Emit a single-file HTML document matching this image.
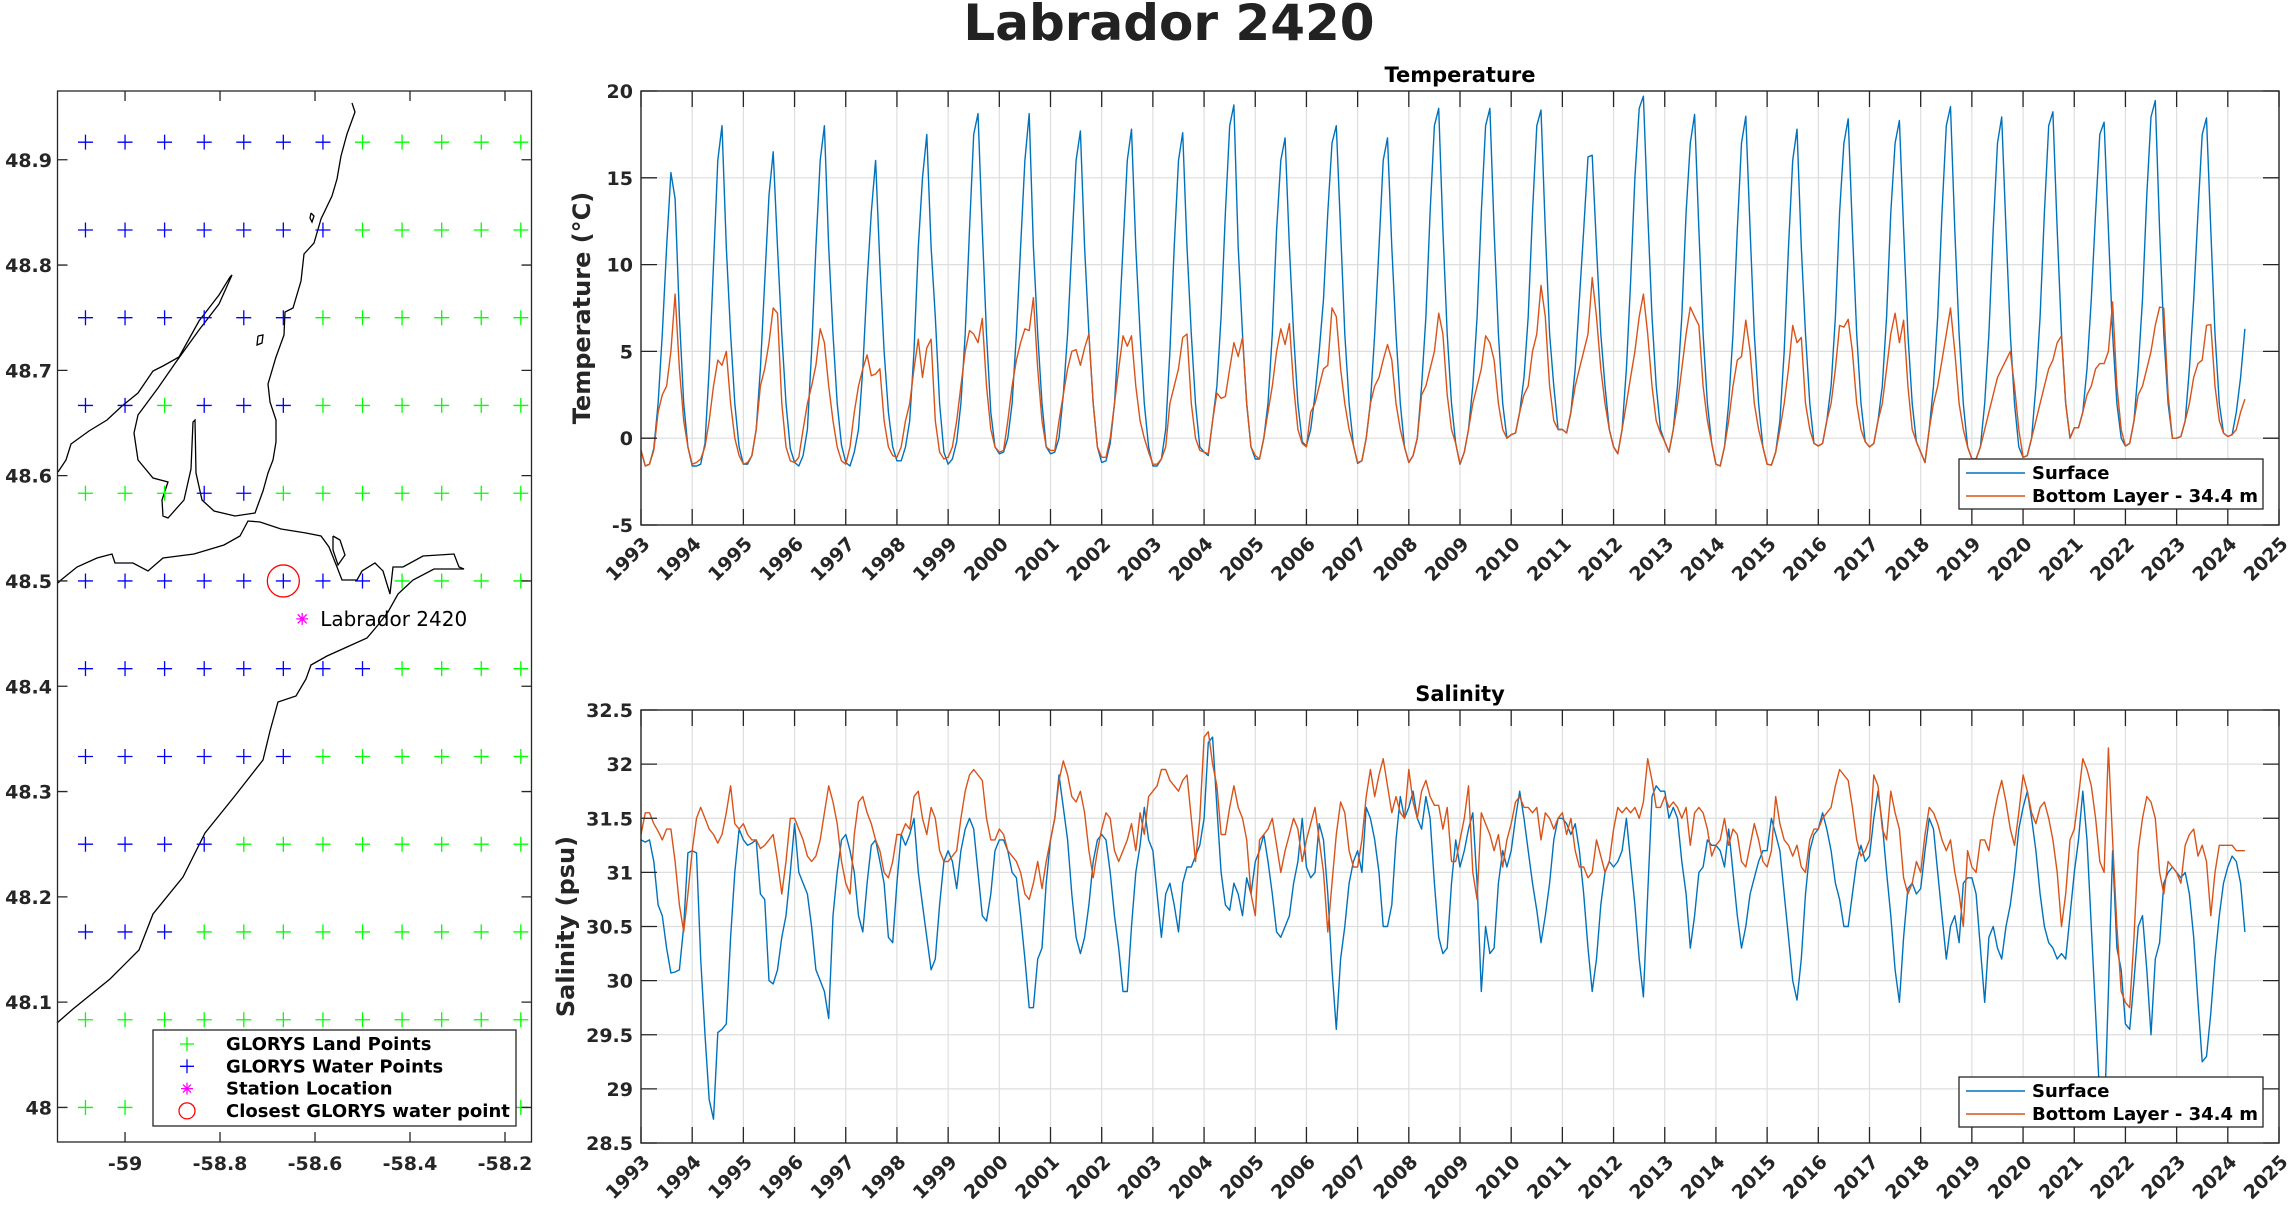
<!DOCTYPE html>
<html><head><meta charset="utf-8"><style>
html,body{margin:0;padding:0;background:#fff;}
svg{display:block;font-family:"DejaVu Sans","Liberation Sans",sans-serif;}
</style></head><body>
<svg id="fig" width="2292" height="1205" viewBox="0 0 2292 1205" xmlns="http://www.w3.org/2000/svg">
<text x="1169" y="40" font-size="50" font-weight="bold" text-anchor="middle" fill="#222">Labrador 2420</text>
<g id="map"></g>
<g id="temp"></g>
<g id="sal"></g>
</svg>
<script>
// ---------- data ----------
const years = [1993,1994,1995,1996,1997,1998,1999,2000,2001,2002,2003,2004,2005,2006,2007,2008,2009,2010,2011,2012,2013,2014,2015,2016,2017,2018,2019,2020,2021,2022,2023,2024];
const tempTicks = [-5,0,5,10,15,20];
const salTicks = [28.5,29,29.5,30,30.5,31,31.5,32,32.5];
const yearTicks = [1993,1994,1995,1996,1997,1998,1999,2000,2001,2002,2003,2004,2005,2006,2007,2008,2009,2010,2011,2012,2013,2014,2015,2016,2017,2018,2019,2020,2021,2022,2023,2024,2025];
const tempSurface = [
-0.7,-1.6,-1.5,-0.6,2,6,11,15.3,13.8,7,2,-0.5,
-1.6,-1.6,-1.5,-0.3,4,10,16,18,11,6,2,-0.5,
-1.5,-1.5,-1,0.5,4,9,14,16.5,11,6,2,-0.6,
-1.4,-1.6,-1,0.5,5,11,16,18,11,6,2,-0.4,
-1.4,-1.6,-0.8,0.5,4,9,13,16,10,5,1.5,-0.5,
-1.3,-1.3,-0.5,1,5,11,15,17.5,11,7,2,-0.8,
-1.5,-1.2,-0.2,2,6,12,17.5,18.7,12,6,1.5,-0.5,
-0.9,-0.8,0,2,6,11,16,18.7,11,6,2,-0.5,
-0.9,-0.8,0,2.5,6,11,16,17.7,11,6,2,-0.5,
-1.4,-1.3,-0.3,2,6,11,16,17.8,11,6,2,-0.5,
-1.6,-1.6,-1.2,0.5,5,11,16,17.6,11,6,2,-0.5,
-0.8,-1,1,3,7,13,18,19.2,11,6,2,-0.5,
-1.2,-1.2,0,2,6,12,16,17.3,11,6,2,-0.2,
-0.45,0.5,2.5,5,8,13,17,18,12,6,2,-0.4,
-1.45,-1.3,0,2,6,11,16,17.3,11,6,2,-0.5,
-1.4,-1,0,3,7,13,18,19,12,6,2,-0.3,
-1.5,-0.8,0.5,3,7,13,18,19,12,6,2,0,
0.2,0.3,1.5,3.5,7,13,18,18.9,12,6,3,0.5,
0.5,0.3,1.5,4,8,12,16.2,16.3,11,6,3,0.5,
-0.5,-0.9,0.5,4,9,15,19,19.7,13,7,3,0.5,
-0.2,-0.8,0.5,3,7,13,17,18.65,12,6,2,-0.3,
-1.5,-1.6,-0.5,2,6,12,17,18.55,12,6,2,-0.5,
-1.5,-1.55,-0.8,1,5,11,16,17.8,11,6,2,-0.3,
-0.45,-0.3,1,3,7,13,17,18.4,12,6,2,-0.2,
-0.5,-0.3,1,3,7,13,17,18.3,12,6,2,-0.2,
-0.8,-1.4,0.5,3,7,13,18,19.1,12,6,2,-0.5,
-1.2,-1.2,-0.5,2,6,12,17,18.5,12,6,2,-0.5,
-1.1,-1.0,0,3,7,13,18,18.8,12,6,2,0,
0.6,0.6,1.5,4,8,13,17.5,18.2,12,6,2,0,
-0.45,-0.3,1,4,8,14,18.5,19.45,12,6,2,0,
0,0.1,1,4,8,13,17.5,18.45,12,6,2,0.3,
0.1,0.2,1.5,3.5,6.3];
const tempBottom = [
-0.7,-1.6,-1.5,-0.7,1.5,2.5,3,5,8.3,4,1,-0.5,
-1.5,-1.4,-1.2,-0.5,1,3,4.5,4.2,5,2,0,-1,
-1.5,-1.4,-1,0.5,3,4,5.5,7.5,7.2,2,-0.5,-1.3,
-1.4,-1.1,0.5,2,3,4.2,6.3,5.5,3,1,-0.5,-1.3,
-1.5,-0.5,1.5,3,4,4.8,3.6,3.7,4,1,-0.5,-1,
-1.1,-0.5,1,2,4,5.7,3.5,5.2,5.7,1,-0.8,-1.2,
-1.1,-0.5,1,3,5,6.2,6,5.5,6.9,3,0.5,-0.5,
-0.8,-0.7,1,3,4.5,5.5,6.3,6.2,8.1,4,1,-0.5,
-0.7,-0.7,1,2.5,4,5,5.1,4.2,5.2,6,2,-0.5,
-1.1,-1.1,0,2,4,5.9,5.3,5.9,3,1,0,-0.8,
-1.5,-1.5,-1.2,-0.5,2,3,4,5.8,6,2,0,-0.7,
-0.8,-0.9,1,2.6,2.3,2.4,4,5.5,4.7,5.8,2,-0.5,
-1,-1.2,0,1.5,3,5,6.3,5.4,6.6,3,0.5,-0.3,
-0.5,1.5,2,3,4,4.2,7.5,7,4,2,0.5,-0.4,
-1.4,-1.3,0,2,3,3.5,4.5,5.4,4.5,2,0.5,-0.5,
-1.4,-1,0,2.5,3,4,5,7.2,6,2.5,0.5,-0.3,
-1.5,-0.8,0.5,2,3,4,5.9,5.5,4.5,2,0.5,0,
0.2,0.3,1.5,2.5,3,5,6,8.8,7,3,1,0.5,
0.5,0.3,1.5,3,4,5,6,9.25,7,4,2,0.5,
-0.5,-0.9,0.5,2,3.5,5,7,8.3,6,3,1,0.3,
-0.2,-0.8,0.5,2,4,6,7.55,7,6.5,3,1,-0.3,
-1.5,-1.6,-0.5,1,3,4.5,4.7,6.8,5,2,0.5,-0.5,
-1.5,-1.55,-0.8,0.5,2,4,6.5,5.5,5.8,2,0.5,-0.3,
-0.45,-0.3,1,2,4,6.5,6.4,6.85,5,2,0.5,-0.2,
-0.5,-0.3,1,2,4,6,7.2,5.5,6.8,3,0.5,-0.2,
-0.8,-1.4,0.5,2,3,4.5,6,7.5,5,2,0.5,-0.5,
-1.2,-1.2,-0.5,0.5,1.5,2.5,3.5,4,4.5,5,3,0.5,
-1.1,-1.0,0,1,2,3,4,4.5,5.5,5.9,2,0,
0.6,0.6,1.5,2.5,3,4,4.3,4.3,5,7.85,3,0.5,
-0.45,-0.3,1,2.5,3,4,5,6.5,7.55,7.5,2.5,0,
0,0.1,1,2,3.5,4.3,4.5,6.5,6.55,3,1,0.3,
0.1,0.2,0.5,1.5,2.25];
const salSurface = [
31.3,31.28,31.3,31.1,30.7,30.6,30.3,30.07,30.08,30.1,30.5,31.18,
31.2,31.18,30.2,29.5,28.9,28.72,29.52,29.55,29.6,30.4,31.0,31.4,
31.3,31.25,31.27,31.3,30.8,30.75,30.0,29.97,30.1,30.4,30.6,31.0,
31.45,31.0,30.9,30.8,30.5,30.1,30.0,29.9,29.65,30.6,31.0,31.3,
31.35,31.2,31.0,30.6,30.45,30.9,31.25,31.3,31.1,30.9,30.4,30.35,
30.9,31.35,31.25,31.35,31.5,31.0,30.7,30.4,30.1,30.2,30.7,31.1,
31.2,31.1,30.85,31.2,31.4,31.5,31.4,31.0,30.6,30.55,30.8,31.2,
31.3,31.3,31.2,31.0,30.95,30.6,30.2,29.75,29.75,30.2,30.3,30.9,
31.3,31.5,31.9,31.6,31.3,30.8,30.4,30.25,30.4,30.7,31.1,31.3,
31.35,31.3,31.0,30.6,30.3,29.9,29.9,30.5,31.0,31.25,31.6,31.3,
31.2,30.8,30.4,30.8,30.9,30.7,30.45,30.9,31.05,31.05,31.15,31.25,
31.5,32.2,32.25,31.6,31.0,30.7,30.65,30.9,30.8,30.6,30.95,30.8,
31.1,31.2,31.35,31.1,30.8,30.45,30.4,30.5,30.6,30.9,31.1,31.5,
31.05,30.95,31.0,31.45,31.3,30.8,30.1,29.55,30.2,30.5,30.9,31.1,
31.2,31.0,31.6,31.5,31.3,31.0,30.5,30.5,30.7,31.3,31.7,31.5,
31.6,31.75,31.5,31.4,31.7,31.5,30.9,30.4,30.25,30.3,30.9,31.3,
31.05,31.2,31.4,31.55,30.9,29.9,30.5,30.25,30.3,30.9,31.2,31.05,
31.2,31.5,31.75,31.5,31.2,30.9,30.65,30.35,30.6,30.9,31.3,31.5,
31.5,31.45,31.35,31.45,31.2,30.8,30.3,29.9,30.2,30.7,31.0,31.1,
31.05,31.1,31.2,31.5,31.1,30.7,30.2,29.85,30.8,31.7,31.8,31.75,
31.75,31.5,31.6,31.5,31.1,30.8,30.3,30.6,31.0,31.05,31.3,31.25,
31.25,31.2,31.05,31.4,31.0,30.6,30.3,30.5,30.8,30.95,31.1,31.2,
31.2,31.5,31.35,31.2,30.8,30.4,30.0,29.82,30.2,30.8,31.2,31.35,
31.4,31.55,31.4,31.2,30.9,30.75,30.5,30.5,30.8,31.1,31.25,31.1,
31.15,31.5,31.75,31.45,31.0,30.6,30.1,29.8,30.4,30.85,30.9,30.8,
30.85,31.2,31.5,31.4,31.0,30.6,30.2,30.5,30.6,30.35,30.9,30.95,
30.95,30.8,30.3,29.8,30.4,30.5,30.3,30.2,30.5,30.7,31.0,31.4,
31.6,31.75,31.5,31.2,30.8,30.5,30.35,30.3,30.2,30.25,30.2,30.6,
31.0,31.3,31.75,31.3,30.5,29.7,28.9,28.65,29.9,31.2,30.3,30.1,
29.6,29.55,30.0,30.5,30.6,30.1,29.5,30.2,30.35,30.9,31.0,31.05,
31.0,30.95,31.0,30.8,30.4,29.8,29.25,29.3,29.7,30.2,30.6,30.9,
31.05,31.15,31.1,30.9,30.45];
const salBottom = [
31.35,31.55,31.55,31.45,31.38,31.3,31.4,31.4,31.1,30.7,30.45,30.8,
31.2,31.5,31.6,31.5,31.4,31.35,31.27,31.35,31.55,31.8,31.45,31.4,
31.45,31.35,31.3,31.3,31.22,31.25,31.3,31.35,31.1,30.8,31.1,31.5,
31.5,31.4,31.3,31.15,31.1,31.15,31.3,31.55,31.8,31.65,31.45,31.1,
30.9,30.8,31.35,31.65,31.7,31.55,31.45,31.3,31.2,31.0,30.95,31.1,
31.35,31.35,31.45,31.4,31.7,31.75,31.5,31.35,31.6,31.5,31.2,31.1,
31.1,31.15,31.2,31.5,31.75,31.9,31.95,31.9,31.85,31.5,31.3,31.3,
31.4,31.35,31.2,31.15,31.1,31.0,30.8,30.75,30.9,31.1,30.85,31.1,
31.3,31.5,31.85,32.03,31.9,31.7,31.65,31.75,31.55,31.2,30.95,31.2,
31.4,31.55,31.5,31.2,31.1,31.2,31.3,31.45,31.2,31.55,31.35,31.7,
31.75,31.8,31.95,31.95,31.85,31.8,31.75,31.85,31.9,31.5,31.1,31.5,
32.25,32.3,32.0,31.8,31.35,31.35,31.6,31.8,31.6,31.5,31.3,30.8,
30.6,31.3,31.35,31.4,31.5,31.25,31.0,31.2,31.35,31.5,31.4,31.1,
31.3,31.45,31.6,31.3,31.0,30.45,30.9,31.35,31.65,31.55,31.2,31.05,
31.05,31.3,31.7,31.95,31.7,31.9,32.05,31.8,31.55,31.7,31.55,31.5,
31.95,31.65,31.5,31.75,31.85,31.7,31.62,31.62,31.4,31.6,31.1,31.1,
31.3,31.5,31.8,31.0,30.75,31.55,31.45,31.35,31.2,31.35,31.05,31.3,
31.45,31.65,31.7,31.6,31.6,31.55,31.6,31.3,31.55,31.5,31.4,31.5,
31.55,31.35,31.5,31.2,31.05,31.05,30.95,31.0,31.3,31.15,31.0,31.1,
31.4,31.6,31.55,31.6,31.55,31.6,31.5,31.65,32.05,31.85,31.6,31.6,
31.7,31.6,31.65,31.6,31.5,31.6,31.25,31.55,31.6,31.55,31.4,31.15,
31.25,31.3,31.5,31.25,31.4,31.35,31.1,31.05,31.25,31.45,31.3,31.1,
31.05,31.2,31.7,31.45,31.3,31.25,31.15,31.25,31.05,31.0,31.3,31.4,
31.4,31.5,31.55,31.6,31.8,31.95,31.9,31.85,31.6,31.3,31.15,31.2,
31.3,31.9,31.8,31.4,31.3,31.75,31.55,31.4,30.95,30.8,30.9,31.1,
31.0,31.35,31.6,31.55,31.45,31.3,31.2,31.3,31.0,30.8,30.5,31.2,
31.05,31.0,31.3,31.3,31.2,31.5,31.7,31.85,31.65,31.4,31.25,31.55,
31.9,31.75,31.55,31.45,31.6,31.65,31.5,31.3,31.0,30.5,30.8,31.3,
31.4,31.7,32.05,31.95,31.8,31.5,31.1,31.0,32.15,31.3,30.5,29.9,
29.8,29.75,30.4,31.2,31.5,31.7,31.65,31.5,31.0,30.8,31.1,31.05,
31.0,30.9,31.25,31.35,31.4,31.15,31.25,31.1,30.6,31.0,31.25,31.25,
31.25,31.25,31.2,31.2,31.2];
const gridLon = [-59.0833,-59.0,-58.9167,-58.8333,-58.75,-58.6667,-58.5833,-58.5,-58.4167,-58.3333,-58.25,-58.1667];
const gridLat = [48.9167,48.8333,48.75,48.6667,48.5833,48.5,48.4167,48.3333,48.25,48.1667,48.0833,48.0];
const waterMask = [
[1,1,1,1,1,1,1,0,0,0,0,0],
[1,1,1,1,1,1,1,0,0,0,0,0],
[1,1,1,1,1,1,0,0,0,0,0,0],
[1,1,0,1,1,1,0,0,0,0,0,0],
[0,0,0,1,1,0,0,0,0,0,0,0],
[1,1,1,1,1,1,1,1,0,0,0,0],
[1,1,1,1,1,1,1,1,0,0,0,0],
[1,1,1,1,1,1,0,0,0,0,0,0],
[1,1,1,1,0,0,0,0,0,0,0,0],
[1,1,1,0,0,0,0,0,0,0,0,0],
[0,0,0,0,0,0,0,0,0,0,0,0],
[0,0,0,0,0,0,0,0,0,0,0,0]];
const mapXTicks = [-59,-58.8,-58.6,-58.4,-58.2];
const mapYTicks = [48,48.1,48.2,48.3,48.4,48.5,48.6,48.7,48.8,48.9];
const station = [-58.627, 48.464];
const closestPoint = [-58.6667, 48.5];

const NS="http://www.w3.org/2000/svg";
function mk(tag,attrs,parent){const e=document.createElementNS(NS,tag);for(const k in attrs)e.setAttribute(k,attrs[k]);if(parent)parent.appendChild(e);return e;}
const TXT="#262626";

// ---------- map ----------
(function(){
 const g=document.getElementById('map');
 const L=57.5,R=531.5,T=91,B=1142;
 const lon0=-59.1422,lon1=-58.1442,lat0=47.9672,lat1=48.9653;
 const X=v=>L+(v-lon0)/(lon1-lon0)*(R-L);
 const Y=v=>B-(v-lat0)/(lat1-lat0)*(B-T);
 const coast=[
 [[352,103],[355,112],[347,134],[341,156],[337,179],[332,196],[321,219],[314,243],[304,254],[301,281],[293,308],[285,312],[284,335],[276,357],[268,384],[270,402],[276,420],[276,442],[273,460],[268,473],[263,491],[255,513],[235,516],[214,511],[202,500],[196,473],[195,420],[193,422],[191,469],[184,500],[168,518],[163,516],[162,500],[168,482],[153,478],[138,460],[134,433],[138,415],[158,388],[176,362],[199,330],[219,304],[232,275],[230,277],[219,295],[199,321],[179,357],[163,366],[153,371],[138,393],[122,406],[107,420],[89,431],[71,444],[66,460],[58,472]],
 [[58,583],[61,580],[77,567],[97,558],[112,554],[115,563],[133,563],[148,571],[163,558],[194,554],[224,545],[240,536],[248,521],[260,522],[281,529],[306,533],[321,536],[329,547],[337,567],[342,580],[357,580],[362,571],[375,563],[383,571],[390,594],[393,567],[403,567],[423,556],[454,554],[459,567],[464,569],[434,569],[413,580],[398,594],[388,612],[378,625],[367,638],[347,647],[327,656],[311,665],[306,679],[296,696],[278,702],[270,731],[263,760],[234,797],[205,833],[183,877],[153,914],[139,950],[110,979],[73,1009],[57,1023]],
 [[333,536],[340,540],[345,555],[338,565],[333,550],[333,536]],
 [[311,213],[314,216],[312,222],[310,218],[311,213]],
 [[258,336],[263,335],[262,343],[257,345],[258,336]]
 ];
 coast.forEach((pts,i)=>{const p=mk('polyline',{points:pts.map(q=>q.join(',')).join(' '),fill:'none',stroke:'#000','stroke-width':1.3},g);
  
  });
 gridLat.forEach((la,r)=>gridLon.forEach((lo,c)=>{
  const w=waterMask[r][c]===1, x=X(lo), y=Y(la);
  const col=w?'#0000ff':'#00ff00';
  const m=mk('path',{d:`M${x-7.5},${y}H${x+7.5}M${x},${y-7.5}V${y+7.5}`,stroke:col,'stroke-width':1.3,fill:'none'},g);
  
  
 }));
 const cc=mk('ellipse',{cx:X(closestPoint[0]),cy:Y(closestPoint[1]),rx:16,ry:16,fill:'none',stroke:'#ff0000','stroke-width':1.3},g);
 
 
 const sx=X(station[0]),sy=Y(station[1]);
 const st=mk('path',{d:`M${sx-6},${sy}H${sx+6}M${sx},${sy-6}V${sy+6}M${sx-4.5},${sy-4.5}L${sx+4.5},${sy+4.5}M${sx-4.5},${sy+4.5}L${sx+4.5},${sy-4.5}`,stroke:'#ff00ff','stroke-width':1.3},g);
 
 
 const sl=mk('text',{x:sx+18,y:sy+7,'font-size':20,fill:'#000'},g);sl.textContent='Labrador 2420';
 
 
 const bx=mk('rect',{x:L,y:T,width:R-L,height:B-T,fill:'none',stroke:'#262626','stroke-width':1.3},g);
 
 
 mapXTicks.forEach(v=>{const x=X(v);
  mk('path',{d:`M${x},${B}V${B-10}M${x},${T}V${T+10}`,stroke:'#262626','stroke-width':1.3},g);
  const t=mk('text',{x:x,y:B+28,'font-size':19,'font-weight':'bold','text-anchor':'middle',fill:TXT},g);t.textContent=String(v);
  
  });
 mapYTicks.forEach(v=>{const y=Y(v);
  mk('path',{d:`M${L},${y}H${L+10}M${R},${y}H${R-10}`,stroke:'#262626','stroke-width':1.3},g);
  const t=mk('text',{x:52,y:y+7,'font-size':19,'font-weight':'bold','text-anchor':'end',fill:TXT},g);t.textContent=(v===48?'48':v.toFixed(1));
  
  });
 const lg=mk('g',{},g);
 
 
 mk('rect',{x:153,y:1030,width:363,height:96,fill:'#fff',stroke:'#262626','stroke-width':1.3},lg);
 const items=[['GLORYS Land Points','land'],['GLORYS Water Points','water'],['Station Location','station'],['Closest GLORYS water point','closest']];
 items.forEach((it,i)=>{const y=1044+i*22.3, x=187;
  if(it[1]==='land'||it[1]==='water') mk('path',{d:`M${x-7},${y}H${x+7}M${x},${y-7}V${y+7}`,stroke:it[1]==='land'?'#00ff00':'#0000ff','stroke-width':1.3},lg);
  else if(it[1]==='station') mk('path',{d:`M${x-6},${y}H${x+6}M${x},${y-6}V${y+6}M${x-4},${y-4}L${x+4},${y+4}M${x-4},${y+4}L${x+4},${y-4}`,stroke:'#ff00ff','stroke-width':1.3},lg);
  else mk('circle',{cx:x,cy:y,r:8,fill:'none',stroke:'#ff0000','stroke-width':1.3},lg);
  const t=mk('text',{x:226,y:y+6,'font-size':18,'font-weight':'bold',fill:'#000'},lg);t.textContent=it[0];
  
  });
})();

// ---------- time series ----------
function tsPanel(id,T,B,ymin,ymax,ticks,fmt,title,ylabel,ylabelX,s1,s2,legY){
 const g=document.getElementById(id);
 const L=641,R=2279,x0=1993,x1=2025;
 const X=v=>L+(v-x0)/(x1-x0)*(R-L);
 const Y=v=>B-(v-ymin)/(ymax-ymin)*(B-T);
 yearTicks.forEach(v=>{const x=X(v);mk('line',{x1:x,x2:x,y1:T,y2:B,stroke:'#dedede','stroke-width':1.2},g);});
 ticks.forEach(v=>{const y=Y(v);mk('line',{x1:L,x2:R,y1:y,y2:y,stroke:'#dedede','stroke-width':1.2},g);});
 const line=(arr,col,name)=>{const pts=arr.map((v,i)=>X(x0+i/12).toFixed(1)+','+Y(v).toFixed(1)).join(' ');
  const p=mk('polyline',{points:pts,fill:'none',stroke:col,'stroke-width':1.4,'stroke-linejoin':'round'},g);
  
  };
 line(s1,'#0072BD',id+'-surface-line');
 line(s2,'#D95319',id+'-bottom-line');
 const bx=mk('rect',{x:L,y:T,width:R-L,height:B-T,fill:'none',stroke:'#262626','stroke-width':1.4},g);
 
 
 yearTicks.forEach(v=>{const x=X(v);
  mk('path',{d:`M${x},${B}V${B-16}M${x},${T}V${T+16}`,stroke:'#262626','stroke-width':1.3},g);
  const t=mk('text',{x:0,y:0,'font-size':19,'font-weight':'bold','text-anchor':'end',fill:TXT,transform:`translate(${x+10},${B+20}) rotate(-45)`},g);
  t.textContent=String(v);
  
  });
 ticks.forEach(v=>{const y=Y(v);
  mk('path',{d:`M${L},${y}H${L+16}M${R},${y}H${R-16}`,stroke:'#262626','stroke-width':1.3},g);
  const t=mk('text',{x:633,y:y+7,'font-size':19,'font-weight':'bold','text-anchor':'end',fill:TXT},g);t.textContent=fmt(v);
  
  });
 const tt=mk('text',{x:(L+R)/2,y:T-9,'font-size':21,'font-weight':'bold','text-anchor':'middle',fill:'#000'},g);tt.textContent=title;
 
 
 const yl=mk('text',{x:0,y:0,'font-size':24,'font-weight':'bold','text-anchor':'middle',fill:TXT,transform:`translate(${ylabelX},${(T+B)/2}) rotate(-90)`},g);yl.textContent=ylabel;
 
 
 const lg=mk('g',{},g);
 
 
 mk('rect',{x:1959,y:legY,width:304,height:50,fill:'#fff',stroke:'#262626','stroke-width':1.3},lg);
 [['Surface','#0072BD'],['Bottom Layer - 34.4 m','#D95319']].forEach((e,i)=>{const y=legY+14+i*23;
  mk('line',{x1:1966,x2:2025,y1:y,y2:y,stroke:e[1],'stroke-width':1.4},lg);
  const t=mk('text',{x:2032,y:y+6,'font-size':18,'font-weight':'bold',fill:'#000'},lg);t.textContent=e[0];
  
  });
}
tsPanel('temp',91,525,-5,20,tempTicks,v=>String(v),'Temperature','Temperature (°C)',590,tempSurface,tempBottom,459);
tsPanel('sal',710,1143,28.5,32.5,salTicks,v=>(v%1===0?String(v):v.toFixed(1)),'Salinity','Salinity (psu)',574,salSurface,salBottom,1077);
</script>
</body></html>
